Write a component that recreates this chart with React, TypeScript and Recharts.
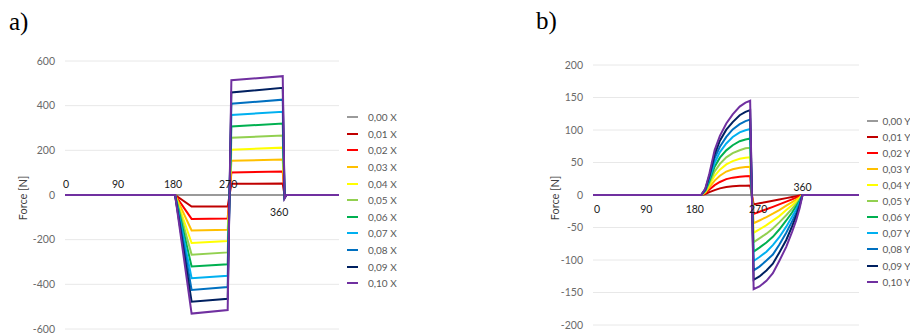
import { LineChart, Line, XAxis, YAxis, CartesianGrid, Legend, ReferenceDot } from "recharts";

// series names + colours (Excel standard palette)
const namesA = ["0,00 X", "0,01 X", "0,02 X", "0,03 X", "0,04 X", "0,05 X", "0,06 X", "0,07 X", "0,08 X", "0,09 X", "0,10 X"];
const namesB = ["0,00 Y", "0,01 Y", "0,02 Y", "0,03 Y", "0,04 Y", "0,05 Y", "0,06 Y", "0,07 Y", "0,08 Y", "0,09 Y", "0,10 Y"];
const colors = ["#9a9a9a", "#c00000", "#ff0000", "#ffc000", "#ffff00", "#92d050", "#00b050", "#00b0f0", "#0070c0", "#002060", "#7030a0"];

const angleLabels = ["0", "90", "180", "270", "360"];
const angleLabelValues = [0, 90, 180, 270, 360];

const ticksA = [-600, -400, -200, 0, 200, 400, 600];
const ticksB = [-200, -150, -100, -50, 0, 50, 100, 150, 200];

// a) force in X, crank angle in degrees
const anglesA = [0, 180, 207, 266, 272, 356, 359, 362, 448];
const x000 = [0, 0, 0, 0, 0, 0, 0, 0, 0];
const x001 = [0, 0, -52, -52, 50, 51, -2, 0, 0];
const x002 = [0, 0, -107, -105, 101, 105, -3, 0, 0];
const x003 = [0, 0, -159, -156, 153, 159, -5, 0, 0];
const x004 = [0, 0, -215, -206, 203, 212, -6, 0, 0];
const x005 = [0, 0, -267, -257, 256, 266, -8, 0, 0];
const x006 = [0, 0, -320, -310, 307, 320, -9, 0, 0];
const x007 = [0, 0, -373, -362, 358, 373, -11, 0, 0];
const x008 = [0, 0, -425, -412, 409, 427, -12, 0, 0];
const x009 = [0, 0, -478, -465, 459, 480, -14, 0, 0];
const x010 = [0, 0, -531, -515, 514, 532, -15, 0, 0];

// b) force in Y
const anglesB = [0, 186, 193, 200, 209, 218, 229, 240, 252, 262, 270, 276, 286, 298, 309, 320, 332, 342, 349, 355, 360, 457];
const y000 = [0, 0, 0, 0, 0, 0, 0, 0, 0, 0, 0, 0, 0, 0, 0, 0, 0, 0, 0, 0, 0, 0];
const y001 = [0, 0, 1.5, 4.4, 7.5, 10.2, 12.3, 13.5, 14.1, 14.4, 14.5, -14.5, -12.8, -10.7, -8.8, -7, -4.8, -3, -1.9, -0.9, 0, 0];
const y002 = [0, 0, 2.9, 8.4, 15.1, 20, 24.4, 26.7, 28.1, 28.7, 29, -29, -25.8, -22, -18.3, -14.5, -10.2, -6.7, -4.1, -2, 0, 0];
const y003 = [0, 0, 3.9, 12.2, 22.2, 29.6, 36.1, 39.6, 41.8, 43.1, 43.5, -43.5, -39.2, -33.9, -28.7, -23.1, -16.5, -10.9, -7, -3.5, 0, 0];
const y004 = [0, 0, 5.2, 15.7, 29.6, 38.9, 47, 52.2, 55.7, 57.4, 58, -58, -52.8, -46.4, -39.4, -32.5, -23.2, -15.7, -9.9, -4.6, 0, 0];
const y005 = [0, 0, 5.8, 18.9, 36.3, 47.9, 58, 64.5, 68.9, 71.8, 72.5, -72.5, -66.7, -59.5, -51.5, -42.1, -31.2, -21, -13.8, -6.5, 0, 0];
const y006 = [0, 0, 7, 21.8, 43.5, 57.4, 68.7, 76.6, 82.7, 85.3, 87, -87, -80.9, -73.1, -64.4, -53.1, -39.2, -27, -17.4, -8.7, 0, 0];
const y007 = [0, 0, 8.1, 25.4, 49.7, 66, 79.2, 89.3, 96.4, 99.5, 101.5, -101.5, -95.4, -87.3, -77.1, -65, -48.7, -33.5, -22.3, -11.2, 0, 0];
const y008 = [0, 0, 8.1, 27.8, 56.8, 74.2, 89.3, 100.9, 109, 113.7, 116, -116, -110.2, -100.9, -91.6, -76.6, -58, -40.6, -27.8, -13.9, 0, 0];
const y009 = [0, 0, 9.1, 30, 62.6, 83.5, 100.5, 112.2, 122.7, 127.9, 130.5, -130.5, -125.3, -116.1, -105.7, -88.7, -69.2, -48.3, -32.6, -17, 0, 0];
const y010 = [0, 0, 10, 33, 69, 91, 110, 124, 136, 142, 145, -145, -140.7, -132, -120.4, -101.5, -79.8, -56.6, -39.2, -20.3, 0, 0];

const buildRows = (angles: number[], series: number[][]) =>
  angles.map((angle, i) => {
    const row: Record<string, number> = { angle };
    series.forEach((s, k) => (row["s" + k] = s[i]));
    return row;
  });

const dataA = buildRows(anglesA, [x000, x001, x002, x003, x004, x005, x006, x007, x008, x009, x010]);
const dataB = buildRows(anglesB, [y000, y001, y002, y003, y004, y005, y006, y007, y008, y009, y010]);

const FONT = "Lato, 'Open Sans', sans-serif";

type Cfg = {
  left: number;
  data: Record<string, number>[];
  names: string[];
  ticks: number[];
  xMax: number;
  margin: { top: number; right: number; bottom: number; left: number };
  legend: { x: number; y: number; row: number; gap: number };
  labelDx: number[];
  labelDy: number[];
  titleDx: number;
};

const ForceChart = ({ cfg }: { cfg: Cfg }) => {
  const renderLegend = () => (
    <div style={{ fontFamily: FONT, fontSize: 10, color: "#595959" }}>
      {cfg.names.map((n, i) => (
        <div key={n} style={{ display: "flex", alignItems: "center", height: cfg.legend.row, whiteSpace: "nowrap" }}>
          <span style={{ display: "inline-block", width: 11, height: 2, background: colors[i], marginRight: cfg.legend.gap }} />
          <span>{n}</span>
        </div>
      ))}
    </div>
  );

  return (
    <div style={{ position: "absolute", left: cfg.left, top: 0, width: 455, height: 336, overflow: "hidden" }}>
      <LineChart width={455} height={336} data={cfg.data} margin={cfg.margin} style={{ fontFamily: FONT }}>
        <CartesianGrid vertical={false} stroke="#e8e8e8" />
        <XAxis dataKey="angle" type="number" domain={[0, cfg.xMax]} hide />
        <YAxis
          width={40}
          domain={[cfg.ticks[0], cfg.ticks[cfg.ticks.length - 1]]}
          ticks={cfg.ticks}
          axisLine={false}
          tickLine={false}
          tickMargin={4}
          tick={{ fontSize: 10.5, fill: "#6a6a6a" }}
          label={{
            content: (p: any) => {
              const vb = p.viewBox || { x: 0, y: 0, width: 0, height: 0 };
              const cx = vb.x + cfg.titleDx;
              const cy = vb.y + vb.height / 2 + 3;
              return (
                <text x={cx} y={cy} transform={`rotate(-90 ${cx} ${cy})`} textAnchor="middle" dominantBaseline="central" fontSize={11} fill="#404040">
                  Force [N]
                </text>
              );
            },
          }}
        />
        <Legend
          layout="vertical"
          align="center"
          verticalAlign="middle"
          content={renderLegend}
          wrapperStyle={{ left: cfg.legend.x, top: cfg.legend.y, width: 80 }}
        />
        {cfg.names.map((n, i) => (
          <Line
            key={n}
            name={n}
            dataKey={"s" + i}
            type="linear"
            stroke={colors[i]}
            strokeWidth={2}
            dot={false}
            isAnimationActive={false}
          />
        ))}
        {angleLabelValues.map((a, i) => (
          <ReferenceDot
            key={a}
            x={a}
            y={0}
            r={1}
            fill="none"
            stroke="none"
            label={{
              content: (p: any) => {
                const vb = p.viewBox || { x: 0, y: 0, width: 0, height: 0 };
                return (
                  <text
                    x={vb.x + vb.width / 2 + cfg.labelDx[i]}
                    y={vb.y + vb.height / 2 + cfg.labelDy[i]}
                    textAnchor="middle"
                    dominantBaseline="central"
                    fontSize={10.5}
                    fill="#1a1a1a"
                  >
                    {angleLabels[i]}
                  </text>
                );
              },
            }}
          />
        ))}
      </LineChart>
    </div>
  );
};

const cfgA: Cfg = {
  left: 0,
  data: dataA,
  names: namesA,
  ticks: ticksA,
  xMax: 448,
  margin: { top: 61, right: 116, bottom: 7, left: 25 },
  legend: { x: 347, y: 109, row: 16.6, gap: 10 },
  labelDx: [1, -2, -2, -2, -6],
  labelDy: [-11, -11, -11, -11, 17],
  titleDx: -2.5,
};

const cfgB: Cfg = {
  left: 455,
  data: dataB,
  names: namesB,
  ticks: ticksB,
  xMax: 457,
  margin: { top: 65, right: 51, bottom: 11, left: 98 },
  legend: { x: 411.5, y: 112.7, row: 16.1, gap: 5 },
  labelDx: [4, 1, -3, 8, 0],
  labelDy: [14, 14, 14, 14, -8],
  titleDx: 1.5,
};

const App = () => (
  <div style={{ position: "absolute", left: 0, top: 0, width: 910, height: 336, background: "#fff", overflow: "hidden" }}>
    <div style={{ position: "absolute", left: 9, top: 9, fontFamily: "'Liberation Serif', serif", fontSize: 25, lineHeight: "25px" }}>a)</div>
    <div style={{ position: "absolute", left: 536, top: 8, fontFamily: "'Liberation Serif', serif", fontSize: 25, lineHeight: "25px" }}>b)</div>
    <ForceChart cfg={cfgA} />
    <ForceChart cfg={cfgB} />
  </div>
);

export default App;
